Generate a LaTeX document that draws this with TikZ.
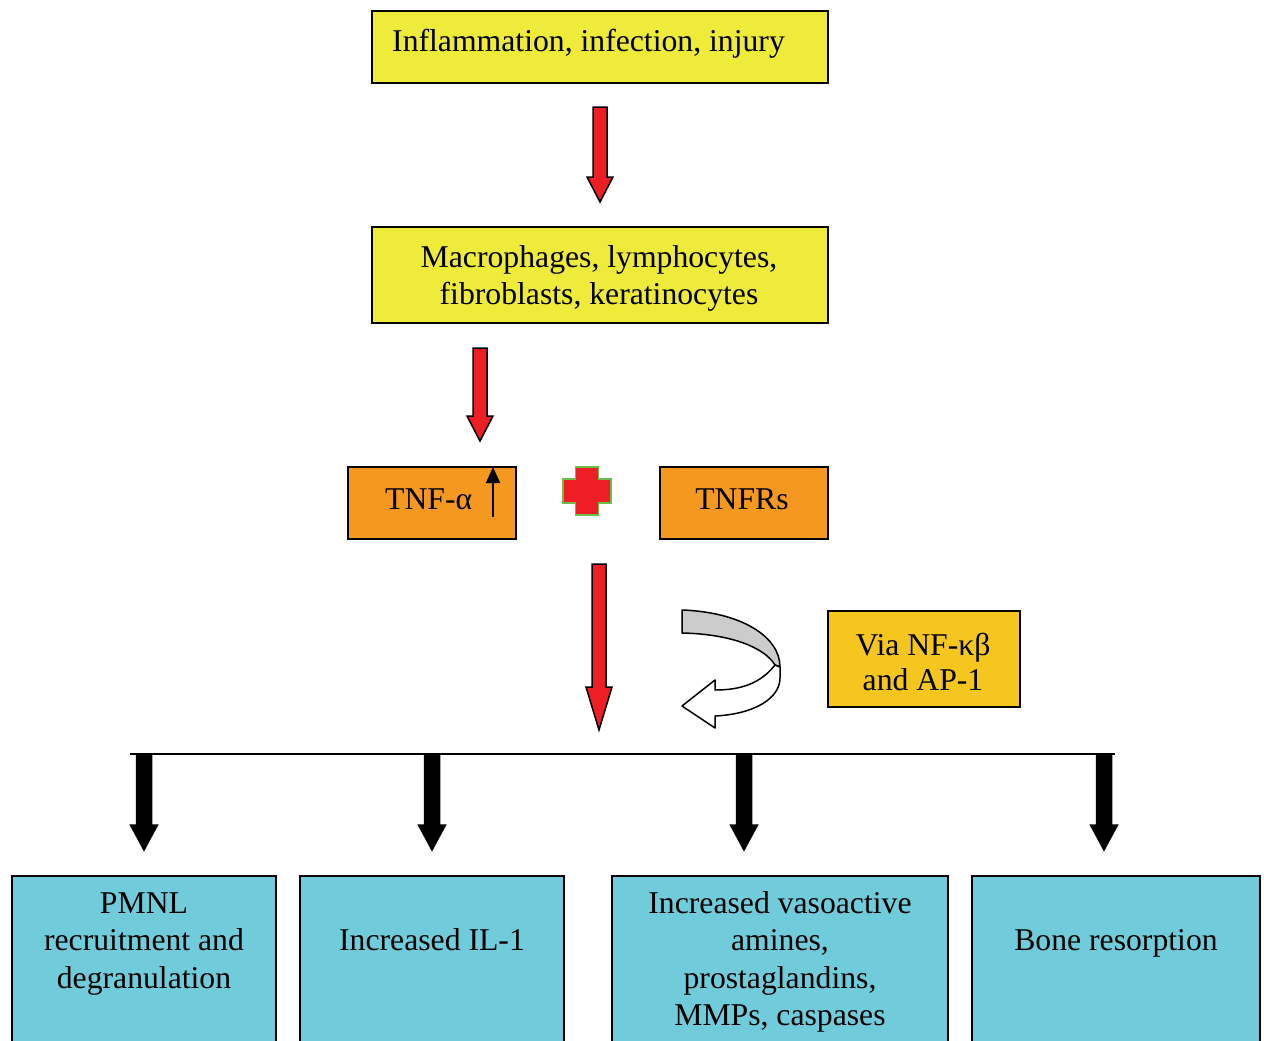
\documentclass[tikz,border=0pt]{standalone}
\usepackage{fontspec}
\setmainfont{Liberation Serif}
\usepackage{tikz}
\usetikzlibrary{calc,arrows.meta}
\definecolor{boxyellow}{RGB}{238,235,59}
\definecolor{boxorange}{RGB}{244,152,32}
\definecolor{boxgold}{RGB}{245,198,30}
\definecolor{boxcyan}{RGB}{112,204,218}
\definecolor{arrowred}{RGB}{237,30,36}
\definecolor{plusgreen}{RGB}{108,190,72}
\definecolor{bandgray}{RGB}{204,204,204}
\tikzset{
  box/.style={draw=black,line width=2pt,inner sep=0pt,anchor=north west},
  txt/.style={font=\fontsize{31.7}{37.5}\selectfont,inner sep=0pt,align=center,anchor=base},
  tiplen/.store in=\tiplen, tiplen=25pt,
  fatarrow/.style={line width=1.5pt,line join=miter,
    to path={let \p1=(\tikztostart),\p2=(\tikztotarget) in
      (\x1-#1,\y1)--(\x1+#1,\y1)--(\x1+#1,\y2+\tiplen)--(\x1+#1+6pt,\y2+\tiplen)
      --(\x1,\y2)--(\x1-#1-6pt,\y2+\tiplen)--(\x1-#1,\y2+\tiplen)--cycle}},
  redarrow/.style={fatarrow=7pt,fill=arrowred,draw=black},
  blackarrow/.style={fatarrow=7.5pt,fill=black,draw=black}
}
\begin{document}
\begin{tikzpicture}[x=1pt,y=-1pt]
                    \useasboundingbox(0,0)rectangle(1264,1041);
                    \node[box,fill=boxyellow,minimum width=456pt,minimum height=72pt](inflam) at (371,10){};
                    \node[txt,anchor=base west](inflamtxt) at (392,52){Inflammation, infection, injury};
                    \node[box,fill=boxyellow,minimum width=456pt,minimum height=96pt](macro) at (371,226){};
                    \node[txt](macrotxt) at (599,304.5){Macrophages, lymphocytes,\\fibroblasts, keratinocytes};
                    \node[box,fill=boxorange,minimum width=168pt,minimum height=72pt](tnf) at (347,466){};
                    \node[txt,anchor=base west](tnftxt) at (385,509){TNF-α};
                    \node[box,fill=boxorange,minimum width=168pt,minimum height=72pt](tnfr) at (659,466){};
                    \node[txt](tnfrtxt) at (742,509){TNFRs};
                    \node[box,fill=boxgold,minimum width=192pt,minimum height=96pt](via) at (827,610){};
                    \node[txt,font=\fontsize{31.7}{35}\selectfont](viatxt) at (923,690){Via NF-κβ\\and AP-1};
                    \node[box,fill=boxcyan,minimum width=264pt,minimum height=200pt](pmnl) at (11,875){};
                    \node[box,fill=boxcyan,minimum width=264pt,minimum height=200pt](il) at (299,875){};
                    \node[box,fill=boxcyan,minimum width=336pt,minimum height=200pt](vaso) at (611,875){};
                    \node[box,fill=boxcyan,minimum width=288pt,minimum height=200pt](bone) at (971,875){};
                    \node[txt](pmnltxt) at ([yshift=-113pt]pmnl.north){PMNL\\recruitment and\\degranulation};
                    \node[txt](iltxt) at ([yshift=-75.5pt]il.north){Increased IL-1};
                    \node[txt](vasotxt) at ([yshift=-150.5pt]vaso.north){Increased vasoactive\\amines,\\prostaglandins,\\MMPs, caspases};
                    \node[txt](bonetxt) at ([yshift=-75.5pt]bone.north){Bone resorption};
                    \draw[line width=1.5pt,-{Triangle[width=14pt,length=16pt]}]([xshift=-24pt,yshift=23pt]tnf.south east)--([xshift=-24pt,yshift=-1pt]tnf.north east);
                    \coordinate(plus) at (587,491);
                    \draw[fill=arrowred,draw=plusgreen,line width=1.5pt](plus)++(-11.5,-24)--++(23,0)--++(0,12)--++(12.5,0)--++(0,24)--++(-12.5,0)--++(0,12)--++(-23,0)--++(0,-12)--++(-12.5,0)--++(0,-24)--++(12.5,0)--cycle;
                    \coordinate(lineL) at (130,754);
                    \coordinate(lineR) at (1115,754);
                    \coordinate(split) at (599,754);
                    \draw[line width=2pt](lineL)--(lineR);
                    \draw[redarrow]([yshift=-23pt]inflam.south)to([yshift=24pt]macro.north);
                    \draw[redarrow]([xshift=-120pt,yshift=-24pt]macro.south)to([xshift=48pt,yshift=25pt]tnf.north);
                    \draw[redarrow,tiplen=43pt]($(split|-tnfr.south)+(0,24)$)to($(split)+(0,-24)$);
                    \foreach \b/\dx in {pmnl/0,il/0,vaso/-36,bone/-12}{
                        \coordinate(t\b) at ([xshift=\dx pt,yshift=25pt]\b.north);
                        \draw[blackarrow](t\b|-split)to(t\b);
                    }
                    \draw[line width=1.5pt,fill=bandgray,line join=round](682,610)..controls(740,612)and(780,636)..(780,667)--(775,665)..controls(764,647)and(730,634)..(682,633)--cycle;
                    \draw[line width=1.5pt,fill=white,line join=round](775,665)..controls(760,684)and(740,690)..(715,690)--(715,680)--(682,706)--(715,728)--(715,716)..controls(755,714)and(780,698)..(780,678)--(780,667)--cycle;
                \end{tikzpicture}
\end{document}
